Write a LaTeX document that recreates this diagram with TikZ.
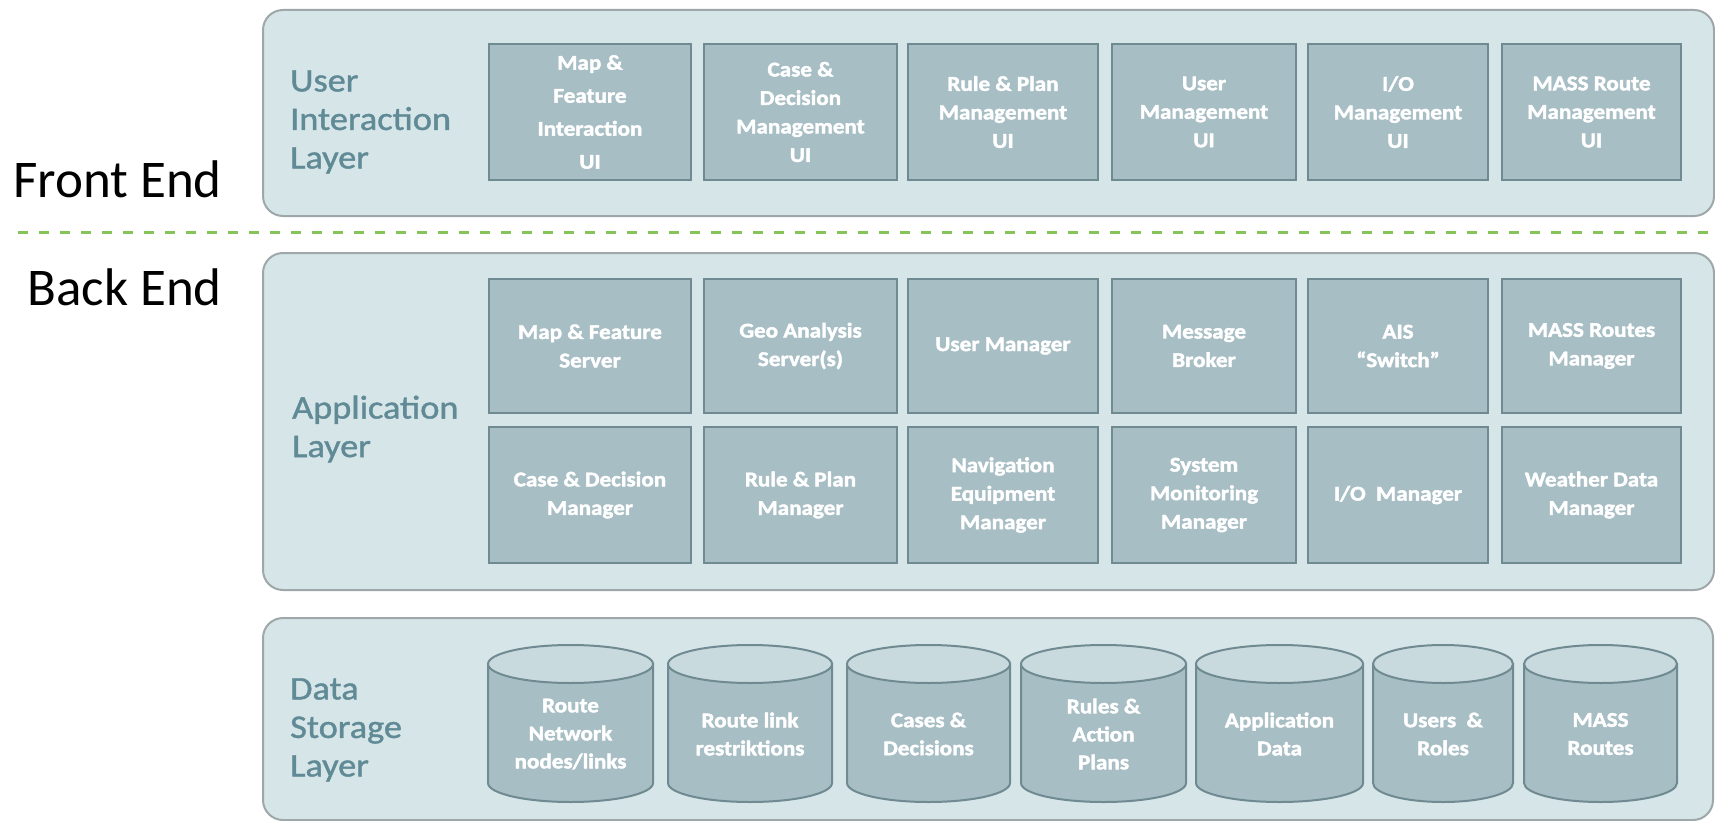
\documentclass[tikz,border=0pt]{standalone}
\usepackage{fontspec}
\setmainfont{Carlito}
\newfontfamily\lblfont[FakeStretch=1.1, FakeBold=2, UprightFont={* Bold}]{Carlito}
\newfontfamily\labfont[FakeStretch=1.1, FakeBold=1.2]{Carlito}
\definecolor{panelfill}{RGB}{214,229,231}
\definecolor{panelborder}{RGB}{158,168,170}
\definecolor{boxfill}{RGB}{167,190,197}
\definecolor{boxborder}{RGB}{112,138,146}
\definecolor{cyltop}{RGB}{201,218,222}
\definecolor{labelcol}{RGB}{96,138,150}
\definecolor{dashgreen}{RGB}{132,196,88}
\tikzset{
  panel/.style={draw=panelborder, fill=panelfill, line width=2pt, rounded corners=20pt, inner sep=0pt, anchor=north west},
  ubox/.style={draw=boxborder, fill=boxfill, line width=2pt, text=white, align=center, inner sep=0pt,
    font=\lblfont\fontsize{21}{28.5}\selectfont},
  layerlabel/.style={text=labelcol, align=left, anchor=west, inner sep=0pt,
    font=\labfont\fontsize{33}{38.5}\selectfont},
  endlabel/.style={text=black, anchor=base east, inner sep=0pt, font=\fontsize{53}{60}\selectfont},
  cylbody/.style={draw=boxborder, fill=boxfill, line width=2pt},
  cyltopst/.style={draw=boxborder, fill=cyltop, line width=2pt},
  cyltext/.style={text=white, align=center, inner sep=0pt,
    font=\lblfont\fontsize{21}{28}\selectfont},
  sepline/.style={draw=dashgreen, line width=3pt, dash pattern=on 10pt off 11pt}
}
\newcommand\dbcyl[4]{%
  \path[cylbody] ({#2-#3},664) -- ({#2-#3},783) arc[start angle=180,end angle=0,x radius=#3,y radius=19] -- ({#2+#3},664) -- cycle;
  \path[cyltopst] (#2,664) ellipse[x radius=#3, y radius=19];
  \node[cyltext] (#1) at (#2,734) {#4};
}
\begin{document}
\begin{tikzpicture}[x=1pt,y=-1pt]
\useasboundingbox (0,0) rectangle (1715,821);
\fill[white] (0,0) rectangle (1715,821);

% panels
\node[panel, minimum width=1451pt, minimum height=206pt] (uipanel) at (262,9) {};
\node[panel, minimum width=1451pt, minimum height=337pt] (apppanel) at (262,252) {};
\node[panel, minimum width=1450pt, minimum height=202pt] (datapanel) at (262,617) {};

% separator
\coordinate (sepL) at (18,232);
\coordinate (sepR) at (1715,232);
\draw[sepline] (sepL) -- (sepR);

% front / back end
\node[endlabel] (front) at (222,197) {Front End};
\node[endlabel] (back) at (222,305) {Back End};

% layer labels
\node[layerlabel] (uilabel) at (290,122) {User\\Interaction\\Layer};
\node[layerlabel] (applabel) at (292,429) {Application\\Layer};
\node[layerlabel] (datalabel) at (290,730) {Data\\Storage\\Layer};

% UI layer boxes
\node[ubox, minimum width=202pt, minimum height=136pt, font=\lblfont\fontsize{21}{33}\selectfont] (ui1) at (590,112) {Map \&\\Feature\\Interaction\\UI};
\node[ubox, minimum width=193pt, minimum height=136pt] (ui2) at (800.5,112) {Case \&\\Decision\\Management\\UI};
\node[ubox, minimum width=190pt, minimum height=136pt] (ui3) at (1003,112) {Rule \& Plan\\Management\\UI};
\node[ubox, minimum width=184pt, minimum height=136pt] (ui4) at (1204,112) {User\\Management\\UI};
\node[ubox, minimum width=180pt, minimum height=136pt] (ui5) at (1398,112) {I/O\\Management\\UI};
\node[ubox, minimum width=179pt, minimum height=136pt] (ui6) at (1591.5,112) {MASS Route\\Management\\UI};

% application layer row 1
\node[ubox, minimum width=202pt, minimum height=134pt] (a1) at (590,346) {Map \& Feature\\Server};
\node[ubox, minimum width=193pt, minimum height=134pt] (a2) at (800.5,346) {Geo Analysis\\Server(s)};
\node[ubox, minimum width=190pt, minimum height=134pt] (a3) at (1003,346) {User Manager};
\node[ubox, minimum width=184pt, minimum height=134pt] (a4) at (1204,346) {Message\\Broker};
\node[ubox, minimum width=180pt, minimum height=134pt] (a5) at (1398,346) {AIS\\“Switch”};
\node[ubox, minimum width=179pt, minimum height=134pt] (a6) at (1591.5,346) {MASS Routes\\Manager};

% application layer row 2
\node[ubox, minimum width=202pt, minimum height=136pt] (b1) at (590,495) {Case \& Decision\\Manager};
\node[ubox, minimum width=193pt, minimum height=136pt] (b2) at (800.5,495) {Rule \& Plan\\Manager};
\node[ubox, minimum width=190pt, minimum height=136pt] (b3) at (1003,495) {Navigation\\Equipment\\Manager};
\node[ubox, minimum width=184pt, minimum height=136pt] (b4) at (1204,495) {System\\Monitoring\\Manager};
\node[ubox, minimum width=180pt, minimum height=136pt] (b5) at (1398,495) {I/O~~Manager};
\node[ubox, minimum width=179pt, minimum height=136pt] (b6) at (1591.5,495) {Weather Data\\Manager};

% data storage cylinders
\dbcyl{d1}{570.5}{82.5}{Route\\Network\\nodes/links}
\dbcyl{d2}{750}{82}{Route link\\restriktions}
\dbcyl{d3}{928.5}{81.5}{Cases \&\\Decisions}
\dbcyl{d4}{1103.5}{82.5}{Rules \&\\Action\\Plans}
\dbcyl{d5}{1279.5}{83.5}{Application\\Data}
\dbcyl{d6}{1443}{70}{Users~~\&\\Roles}
\dbcyl{d7}{1600.5}{76.5}{MASS\\Routes}
\end{tikzpicture}
\end{document}
